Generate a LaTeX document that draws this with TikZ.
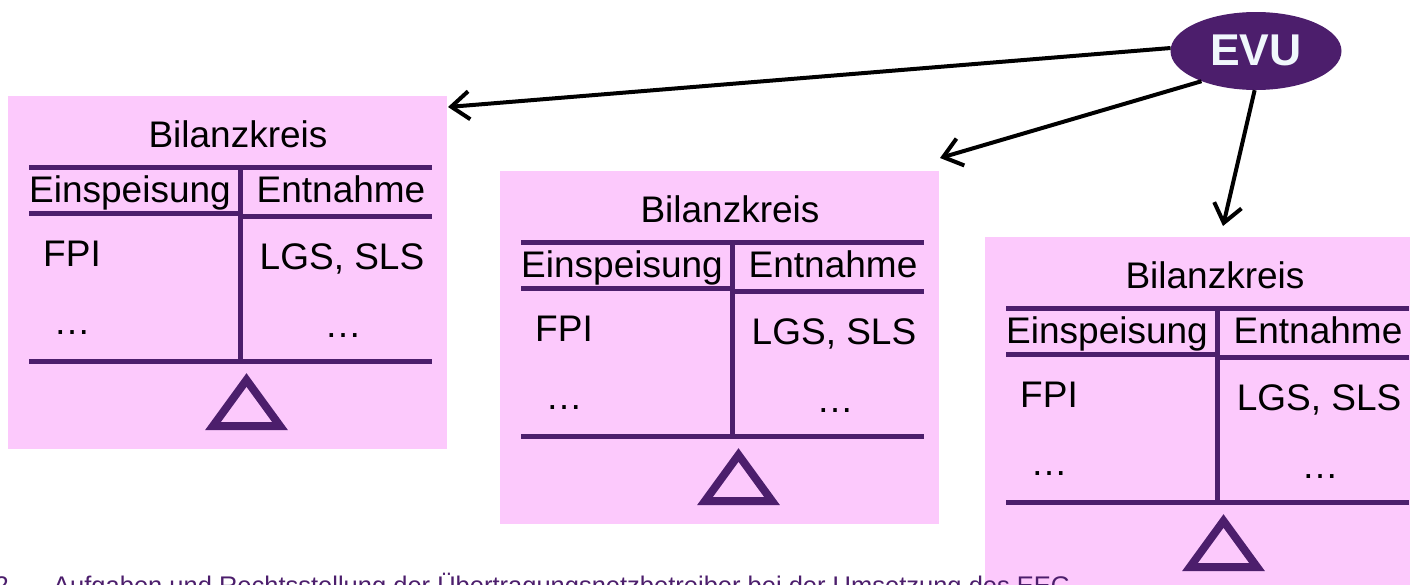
\documentclass[tikz,border=0pt]{standalone}
\usepackage{fontspec}
\setmainfont{Liberation Sans}
\usetikzlibrary{arrows.meta,shapes.geometric}
\definecolor{boxpink}{RGB}{252,201,252}
\definecolor{scalepurple}{RGB}{76,30,108}
\definecolor{evutext}{RGB}{240,247,252}

\begin{document}
\begin{tikzpicture}[x=1pt,y=-1pt,
  lbl/.style={inner sep=0pt, anchor=base, font=\fontsize{37}{40}\selectfont, text=black},
  beam/.style={draw=scalepurple, line width=5pt},
  pivot/.style={draw=scalepurple, line width=8pt, line join=miter},
  link/.style={draw=black, line width=4pt, -{Straight Barb[length=18pt,width=28pt]}},
  footer/.style={inner sep=0pt, anchor=base west, text=scalepurple, font=\fontsize{25.5}{28}\selectfont},
]
\useasboundingbox (0,0) rectangle (1410,584);
\clip (0,0) rectangle (1410,584);

% three balance groups, each drawn as a pink card with a balance beam
\foreach \i/\dx/\dy in {1/0/0, 2/492/75, 3/977/141} {
  \begin{scope}[shift={(\dx,\dy)}]
    \fill[boxpink] (8,96) rectangle (447,449);
    \node[lbl] (title\i) at (238,147) {Bilanzkreis};
    \draw[beam] (29,167) -- (432,167);
    \draw[beam] (29,213) -- (240,213);
    \draw[beam] (240,216) -- (432,216);
    \draw[beam] (240,167) -- (240,361);
    \draw[beam] (29,361) -- (432,361);
    \node[lbl] (in\i) at (130,202) {Einspeisung};
    \node[lbl] (out\i) at (341,202) {Entnahme};
    \node[lbl] (fpi\i) at (72,266) {FPI};
    \node[lbl] (lgs\i) at (342,269) {LGS, SLS};
    \node[lbl] (indots\i) at (72,334) {…};
    \node[lbl] (outdots\i) at (343,337) {…};
    \draw[pivot] (246.5,380) -- (280,426) -- (213,426) -- cycle;
  \end{scope}
}

% supplier
\node[ellipse, fill=scalepurple, minimum width=171pt, minimum height=78pt, inner sep=0pt] (evu) at (1256,51) {};
\node[inner sep=0pt, anchor=base, text=evutext, font=\bfseries\fontsize{44.5}{48}\selectfont] (evulabel) at (1256,65) {EVU};

\coordinate (t1) at (448,107);
\coordinate (t2) at (940,158);
\coordinate (t3) at (1223,226);
\draw[link] (evu.178) -- (t1);
\draw[link] (evu.209) -- (t2);
\draw[link] (evu.268) -- (t3);

% page footer
\node[footer, anchor=base east] (pagenum) at (9,594) {2};
\node[footer] (foot) at (53,594) {Aufgaben und Rechtsstellung der Übertragungsnetzbetreiber bei der Umsetzung des EEG};
\end{tikzpicture}
\end{document}
